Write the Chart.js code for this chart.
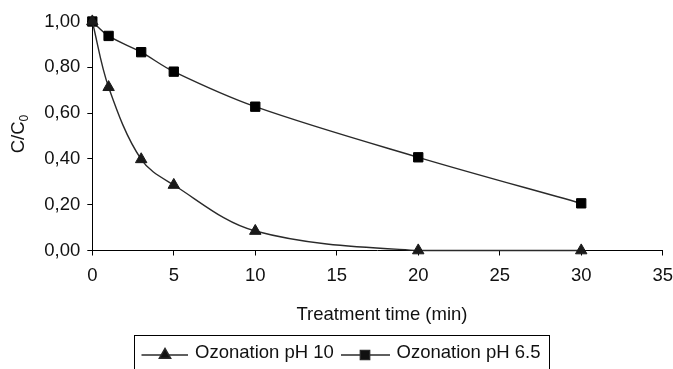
<!DOCTYPE html>
<html>
<head>
<meta charset="utf-8">
<script src="https://cdn.jsdelivr.net/npm/chart.js@4"></script>
<style>
  html, body { margin: 0; padding: 0; background: #fff; }
  #wrap { width: 673px; height: 369px; position: relative; }
</style>
</head>
<body>
<div id="wrap"><canvas id="chart"></canvas></div>
<script>
// --- data ---
const timeMin = [0, 1, 3, 5, 10, 20, 30];
const ozonePH10 = [1.00, 0.713, 0.398, 0.286, 0.085, 0.0, 0.0];
const ozonePH65 = [1.00, 0.937, 0.866, 0.781, 0.628, 0.407, 0.206];
const seriesNames = ['Ozonation pH 10', 'Ozonation pH 6.5'];
const xTicks = [0, 5, 10, 15, 20, 25, 30, 35];
const yTicks = [0, 0.2, 0.4, 0.6, 0.8, 1.0];

const FONT = '"Liberation Sans", Arial, sans-serif';
const FSIZE = 18.5;
const INK = '#111';

function toPoints(xs, ys) {
  return xs.map((x, i) => ({ x: x, y: ys[i] }));
}

// titles + boxed legend drawn by hand (legend box runs off the bottom edge)
const extras = {
  id: 'extras',
  afterDraw(chart) {
    const ctx = chart.ctx;
    ctx.save();
    ctx.fillStyle = INK;
    ctx.font = FSIZE + 'px ' + FONT;

    // x title
    ctx.textAlign = 'center';
    ctx.textBaseline = 'middle';
    ctx.fillText('Treatment time (min)', 382, 315);

    // y title C/C0, rotated, with subscript
    ctx.save();
    ctx.translate(17, 134);
    ctx.rotate(-Math.PI / 2);
    ctx.textAlign = 'left';
    ctx.textBaseline = 'alphabetic';
    const main = 'C/C';
    const wMain = ctx.measureText(main).width;
    ctx.font = '12px ' + FONT;
    const wSub = ctx.measureText('0').width;
    const start = -(wMain + wSub) / 2;
    ctx.font = FSIZE + 'px ' + FONT;
    ctx.fillText(main, start, 6.6);
    ctx.font = '12px ' + FONT;
    ctx.fillText('0', start + wMain, 10.5);
    ctx.restore();

    // legend
    ctx.strokeStyle = '#000';
    ctx.lineWidth = 1;
    ctx.strokeRect(134.5, 335.5, 415, 60);
    const items = [
      { x0: 141.5, x1: 188, mx: 165, tx: 195 },
      { x0: 341, x1: 390, mx: 365, tx: 396.5 }
    ];
    const ly = 355;
    chart.data.datasets.forEach((ds, i) => {
      const it = items[i];
      ctx.strokeStyle = ds.borderColor;
      ctx.lineWidth = ds.borderWidth;
      ctx.beginPath();
      ctx.moveTo(it.x0, ly);
      ctx.lineTo(it.x1, ly);
      ctx.stroke();
      Chart.helpers.drawPoint(ctx, {
        pointStyle: ds.pointStyle,
        radius: ds.pointRadius,
        rotation: 0,
        borderWidth: 1
      }, it.mx, ly);
      ctx.fillStyle = INK;
      ctx.font = FSIZE + 'px ' + FONT;
      ctx.textAlign = 'left';
      ctx.textBaseline = 'middle';
      ctx.fillText(ds.label, it.tx, ly - 2);
    });
    ctx.restore();
  }
};

const ctx = document.getElementById('chart').getContext('2d');
const chart = new Chart(ctx, {
  type: 'line',
  data: {
    datasets: [
      {
        label: seriesNames[0],
        data: toPoints(timeMin, ozonePH10),
        borderColor: '#2a2a2a',
        borderWidth: 1.4,
        pointStyle: 'triangle',
        pointRadius: 6.6,
        pointBackgroundColor: '#1a1a1a',
        pointBorderColor: '#1a1a1a',
        pointBorderWidth: 1,
        tension: 0.35,
        clip: false
      },
      {
        label: seriesNames[1],
        data: toPoints(timeMin, ozonePH65),
        borderColor: '#2a2a2a',
        borderWidth: 1.4,
        pointStyle: 'rect',
        pointRadius: 6.6,
        pointBackgroundColor: '#000',
        pointBorderColor: '#000',
        pointBorderWidth: 1,
        tension: 0.35,
        clip: false
      }
    ]
  },
  options: {
    responsive: true,
    maintainAspectRatio: false,
    animation: false,
    devicePixelRatio: 1,
    layout: { padding: { left: 0, right: 10.3, top: 21.5, bottom: 0 } },
    plugins: {
      legend: { display: false },
      tooltip: { enabled: false }
    },
    scales: {
      x: {
        type: 'linear',
        min: 0,
        max: 35,
        afterBuildTicks: (scale) => { scale.ticks = xTicks.map(v => ({ value: v })); },
        afterFit: (scale) => {
          scale.height = 118.5;
          scale.paddingLeft = 0;
          scale.paddingRight = 0;
        },
        ticks: {
          color: INK,
          font: { family: FONT, size: FSIZE },
          padding: 9,
          maxRotation: 0
        },
        grid: { display: true, drawOnChartArea: false, drawTicks: true, tickLength: 5, color: '#000' },
        border: { display: true, color: '#000', width: 1 }
      },
      y: {
        min: 0,
        max: 1,
        afterBuildTicks: (scale) => { scale.ticks = yTicks.map(v => ({ value: v })); },
        afterFit: (scale) => {
          scale.width = 92.3;
          scale.paddingTop = 0;
          scale.paddingBottom = 0;
        },
        ticks: {
          color: INK,
          font: { family: FONT, size: FSIZE },
          padding: 7,
          callback: (v) => Number(v).toFixed(2).replace('.', ',')
        },
        grid: { display: true, drawOnChartArea: false, drawTicks: true, tickLength: 5, color: '#000' },
        border: { display: true, color: '#000', width: 1 }
      }
    }
  },
  plugins: [extras]
});
</script>
</body>
</html>
